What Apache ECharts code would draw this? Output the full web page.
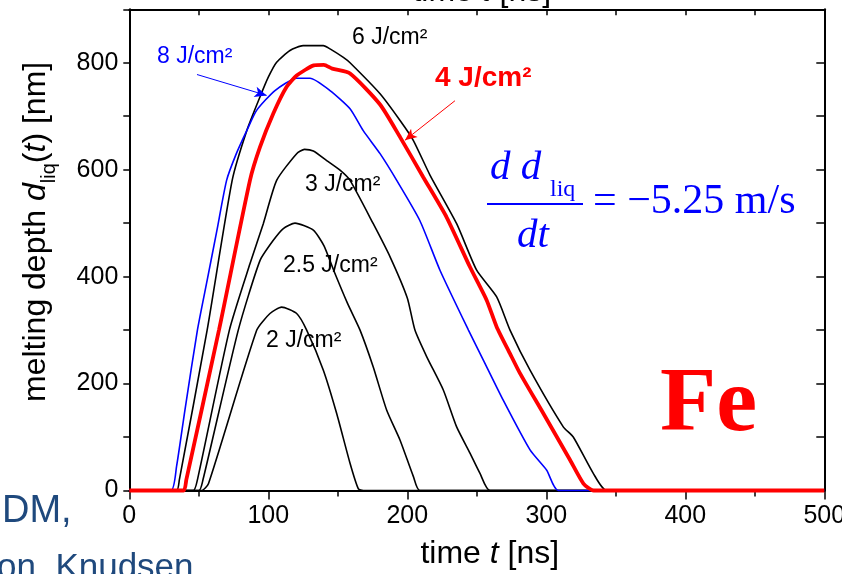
<!DOCTYPE html>
<html>
<head>
<meta charset="utf-8">
<script src="https://cdn.jsdelivr.net/npm/echarts@6/dist/echarts.min.js"></script>
<style>
html,body{margin:0;padding:0;background:#fff;}
#chart{width:842px;height:574px;}
</style>
</head>
<body>
<div id="chart"></div>
<script>
// ---- data (time in ns, melting depth in nm) ----
const t8 = [0,30,34,40,49,56,63,70,77,84.5,91.6,104.8,120.4,130,144.4,158.8,168.3,180.4,192.4,209,223.5,244,254.7,269,288.3,300.3,308.6,500];
const d8 = [0,0,45,150,300,393,486,580,630,673,711,748,771,771,748,714,673,630,580,505,412,300,244,169,76,38,0,0];

const t6 = [0,34,36,56,74,84.5,94,100,106,115.6,125,139.6,144.4,154,158.8,180.4,194.8,204.3,216.3,235.5,249.9,264.3,273.9,288.3,312.2,319.4,333.8,343.4,500];
const d6 = [0,0,20,300,580,673,736,773,801,823,832,832,826,810,800,742,692,655,590,499,412,362,300,225,119,100,32,0,0];

const t4 = [0,39,41,64.5,86.8,94,103.6,113.2,120.4,132.7,140,146,158.8,180.4,194.8,211.5,228.3,245.1,257.1,264.3,273.9,281.1,297.9,317.1,326.7,334,500];
const d4 = [0,0,20,300,580,642,705,755,776,795,796,789,780,722,661,586,511,418,356,306,256,219,144,57,13,0,0];

const t3 = [0,46,49,72,86.8,96.4,106,120.4,126,132.4,142,151.6,158.8,175.5,187.6,200,205.5,214,225.9,235.5,245.1,252.3,259.5,500];
const d3 = [0,0,20,300,424,499,580,630,638,635,617,599,580,499,437,360,300,250,188,119,70,32,0,0];

const t25 = [0,50,53,78.4,94,103.6,110.8,119.2,132.4,140,147,157,166,175.5,185.2,194.8,204.4,209,500];
const d25 = [0,0,20,300,430,468,490,500,487,458,412,350,300,231,150,94,26,0,0];

const t2 = [0,52,57,91.7,101.2,109.6,120.4,127.6,139.6,149.2,158.8,164.8,168.3,500];
const d2 = [0,0,13,300,331,343,331,300,225,144,51,3,0,0];

// annotation arrows (data coordinates)
const arrow8 = [[48.7,778],[98.8,739]];
const arrow4 = [[234.3,729],[198.3,655]];

const xTicks = [0,100,200,300,400,500];
const yTicks = [0,200,400,600,800];

function pairs(t,d){ return t.map((v,i)=>[v,d[i]]); }

const FS = '"Liberation Sans", Arial, sans-serif';
const SERIF = '"Liberation Serif", "Times New Roman", serif';

const chart = echarts.init(document.getElementById('chart'), null, {renderer:'canvas'});

function lineSeries(name, t, d, color, width, z, arrow){
  const s = {
    name, type:'line', data:pairs(t,d), showSymbol:false, symbol:'none',
    smooth:0.2, clip:false, z:z,
    lineStyle:{color:color, width:width}, animation:false
  };
  if (arrow){
    s.markLine = {
      silent:true, animation:false, symbol:['none','arrow'], symbolSize:[8,12],
      label:{show:false},
      lineStyle:{color:color, width:1, type:'solid'},
      data:[[{coord:arrow[0]},{coord:arrow[1]}]]
    };
  }
  return s;
}

const axisCommon = {
  type:'value', splitLine:{show:false}, minorSplitLine:{show:false},
  axisLine:{show:true, onZero:false, lineStyle:{color:'#000', width:2}}
};

const nameRich = {
  n:{fontSize:32, fontFamily:FS, color:'#000'},
  i:{fontSize:32, fontFamily:FS, fontStyle:'italic', color:'#000'}
};

chart.setOption({
  backgroundColor:'#ffffff',
  animation:false,
  grid:{left:129.3, right:17.7, top:9.3, bottom:83.5, containLabel:false, outerBoundsMode:'none'},
  xAxis:[
    Object.assign({}, axisCommon, {
      position:'bottom', min:0, max:500, interval:100,
      axisTick:{show:true, inside:false, length:9, lineStyle:{color:'#000', width:1.5}},
      minorTick:{show:true, splitNumber:2, length:6, lineStyle:{color:'#000', width:1.5}},
      axisLabel:{show:true, color:'#000', fontSize:25, fontFamily:FS, margin:13,
        formatter:(v)=> xTicks.includes(v) ? String(v) : ''},
      name:'{n|time }{i|t}{n| [ns]}', nameLocation:'middle', nameGap:48, nameMoveOverlap:false,
      nameTextStyle:{color:'#000', fontSize:32, fontFamily:FS, padding:[0,0,0,26], rich:nameRich}
    }),
    Object.assign({}, axisCommon, {
      position:'top', min:0, max:500, interval:50,
      axisTick:{show:true, inside:true, length:6, lineStyle:{color:'#000', width:1.5}},
      axisLabel:{show:false},
      name:'{n|time }{i|t}{n| [ns]}', nameLocation:'middle', nameGap:1, nameMoveOverlap:false,
      nameTextStyle:{color:'#000', fontSize:32, fontFamily:FS, padding:[0,0,0,10], rich:nameRich}
    })
  ],
  yAxis:[
    Object.assign({}, axisCommon, {
      position:'left', min:0, max:900, interval:100,
      axisTick:{show:true, inside:false, length:6, lineStyle:{color:'#000', width:1.5}},
      axisLabel:{show:true, color:'#000', fontSize:25, fontFamily:FS, margin:11,
        formatter:(v)=> yTicks.includes(v) ? String(v) : ''},
      name:'{n|melting depth }{i|d}{s|liq}{n|(}{i|t}{n|) [nm]}',
      nameLocation:'middle', nameGap:70, nameMoveOverlap:false,
      nameTextStyle:{color:'#000', fontFamily:FS, fontSize:32, padding:[0,0,0,36],
        rich:{
          n:{fontSize:32, fontFamily:FS, color:'#000', verticalAlign:'bottom', padding:[0,0,7,0]},
          i:{fontSize:32, fontFamily:FS, color:'#000', fontStyle:'italic', verticalAlign:'bottom', padding:[0,0,7,0]},
          s:{fontSize:20, fontFamily:FS, color:'#000', verticalAlign:'bottom'}
        }}
    }),
    Object.assign({}, axisCommon, {
      position:'right', min:0, max:900, interval:100,
      axisTick:{show:true, inside:true, length:8, lineStyle:{color:'#000', width:1.5}},
      axisLabel:{show:false}
    })
  ],
  series:[
    lineSeries('2 J/cm²', t2, d2, '#000', 1.6, 2),
    lineSeries('2.5 J/cm²', t25, d25, '#000', 1.6, 2),
    lineSeries('3 J/cm²', t3, d3, '#000', 1.6, 2),
    lineSeries('6 J/cm²', t6, d6, '#000', 1.6, 2),
    lineSeries('8 J/cm²', t8, d8, '#0000ff', 1.6, 3, arrow8),
    lineSeries('4 J/cm²', t4, d4, '#ff0000', 3.8, 4, arrow4)
  ],
  graphic:[
    {type:'text', x:157, y:57, z:10, style:{text:'8 J/cm²', fill:'#0000ff', font:'23px '+FS, align:'left', verticalAlign:'middle'}},
    {type:'text', x:352, y:38, z:10, style:{text:'6 J/cm²', fill:'#000', font:'23px '+FS, align:'left', verticalAlign:'middle'}},
    {type:'text', x:435, y:78, z:10, style:{text:'4 J/cm²', fill:'#ff0000', font:'bold 28px '+FS, align:'left', verticalAlign:'middle'}},
    {type:'text', x:305, y:185, z:10, style:{text:'3 J/cm²', fill:'#000', font:'23px '+FS, align:'left', verticalAlign:'middle'}},
    {type:'text', x:283, y:266, z:10, style:{text:'2.5 J/cm²', fill:'#000', font:'23px '+FS, align:'left', verticalAlign:'middle'}},
    {type:'text', x:266, y:341, z:10, style:{text:'2 J/cm²', fill:'#000', font:'23px '+FS, align:'left', verticalAlign:'middle'}},
    // formula
    {type:'text', x:490, y:168, z:10, style:{text:'d d', fill:'#0000ff', font:'italic 41px '+SERIF, align:'left', verticalAlign:'middle'}},
    {type:'text', x:550, y:190, z:10, style:{text:'liq', fill:'#0000ff', font:'24px '+SERIF, align:'left', verticalAlign:'middle'}},
    {type:'line', z:10, shape:{x1:487, y1:204, x2:583, y2:204}, style:{stroke:'#0000ff', lineWidth:2}},
    {type:'text', x:517, y:236, z:10, style:{text:'dt', fill:'#0000ff', font:'italic 41px '+SERIF, align:'left', verticalAlign:'middle'}},
    {type:'text', x:593, y:202, z:10, style:{text:'= \u22125.25 m/s', fill:'#0000ff', font:'42px '+SERIF, align:'left', verticalAlign:'middle'}},
    // element label
    {type:'text', x:660, y:406, z:10, style:{text:'Fe', fill:'#ff0000', font:'bold 92px '+SERIF, align:'left', verticalAlign:'middle',
      shadowColor:'rgba(110,110,110,0.8)', shadowOffsetX:4, shadowOffsetY:4, shadowBlur:1}},
    // slide text fragments at bottom-left
    {type:'text', x:2, y:512, z:10, style:{text:'DM,', fill:'#1f497d', font:'38px '+FS, align:'left', verticalAlign:'middle'}},
    {type:'text', x:-3, y:568, z:10, style:{text:'on, Knudsen', fill:'#1f497d', font:'35px '+FS, align:'left', verticalAlign:'middle'}}
  ]
});
</script>
</body>
</html>
